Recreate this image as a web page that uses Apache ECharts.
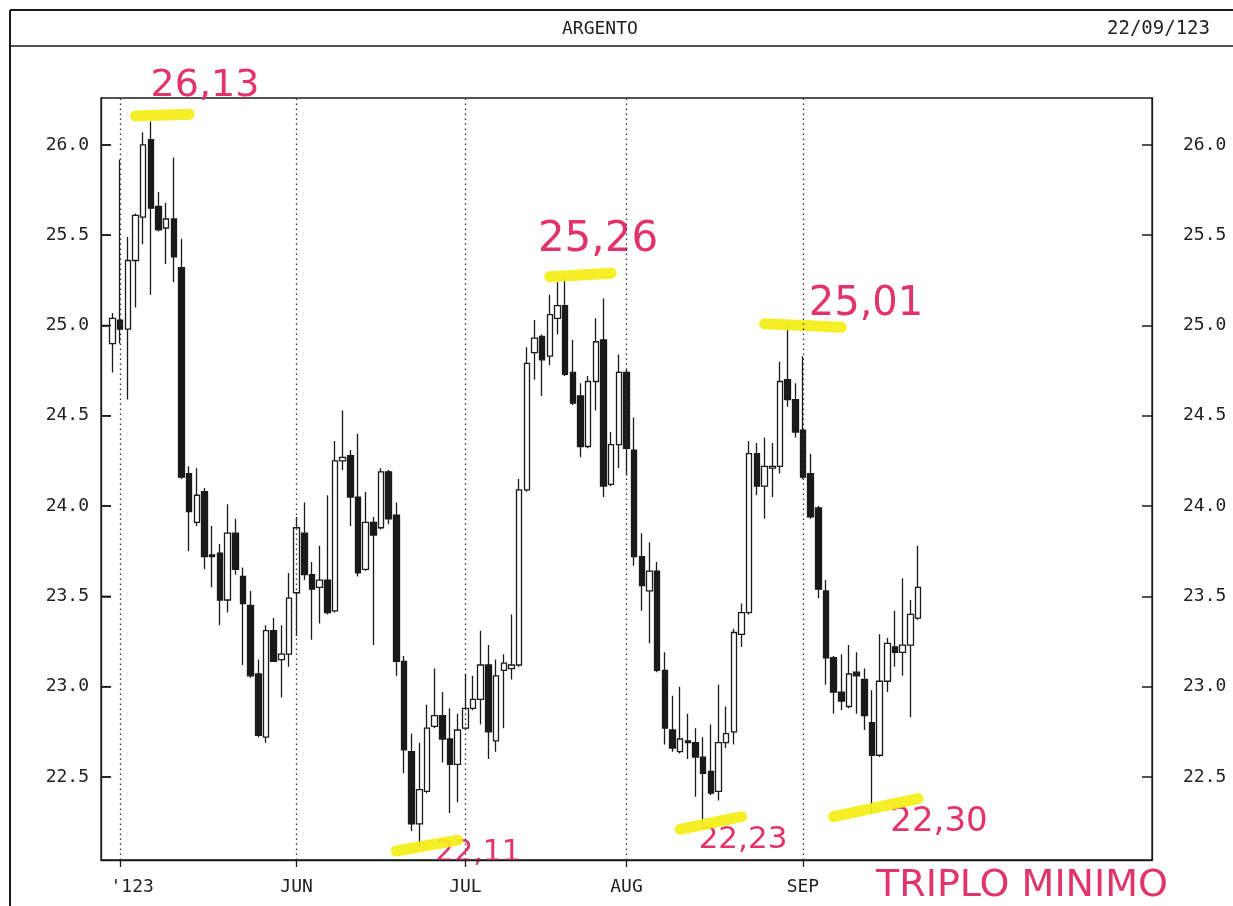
<!DOCTYPE html>
<html>
<head>
<meta charset="utf-8">
<script src="https://cdn.jsdelivr.net/npm/echarts@6/dist/echarts.min.js"></script>
<style>
html,body{margin:0;padding:0;background:#fff;}
#c{width:1233px;height:906px;}
</style>
</head>
<body>
<div id="c"></div>
<script>
// Daily candles, 28 Apr 2023 .. 22 Sep 2023 (weekdays)
const opens = [
24.90,25.03,24.98,25.36,25.60,26.03,25.66,25.54,25.59,25.32,
24.18,23.91,24.08,23.73,23.74,23.48,23.85,23.61,23.45,23.07,
22.72,23.31,23.15,23.18,23.52,23.85,23.62,23.55,23.59,23.42,
24.25,24.28,24.05,23.65,23.91,23.88,24.19,23.95,23.14,22.64,
22.24,22.42,22.78,22.84,22.71,22.57,22.77,22.88,22.93,23.12,
22.70,23.09,23.10,23.12,24.09,24.85,24.94,24.83,25.04,25.11,
24.74,24.61,24.33,24.69,24.92,24.12,24.34,24.74,24.31,23.72,
23.53,23.64,23.09,22.76,22.64,22.70,22.69,22.61,22.53,22.42,
22.69,22.75,23.29,23.41,24.29,24.11,24.21,24.22,24.70,24.59,
24.42,24.18,23.99,23.53,23.16,22.97,22.89,23.08,23.04,22.80,
22.62,23.03,23.22,23.19,23.23,23.38];
const closes = [
25.04,24.98,25.36,25.61,26.00,25.65,25.53,25.59,25.38,24.16,
23.97,24.06,23.72,23.72,23.48,23.85,23.65,23.46,23.06,22.73,
23.31,23.14,23.18,23.49,23.88,23.62,23.54,23.59,23.41,24.25,
24.27,24.05,23.63,23.91,23.84,24.19,23.93,23.14,22.65,22.24,
22.43,22.77,22.84,22.71,22.57,22.76,22.88,22.93,23.12,22.75,
23.06,23.13,23.12,24.09,24.79,24.93,24.81,25.06,25.11,24.73,
24.57,24.33,24.69,24.91,24.11,24.34,24.74,24.32,23.72,23.56,
23.64,23.09,22.77,22.66,22.71,22.69,22.61,22.52,22.41,22.69,
22.74,23.30,23.41,24.29,24.11,24.22,24.22,24.69,24.59,24.41,
24.16,23.94,23.54,23.16,22.97,22.92,23.07,23.06,22.84,22.62,
23.03,23.24,23.19,23.23,23.40,23.55];
const lows = [
24.74,24.90,24.59,25.10,25.45,25.17,25.52,25.34,25.24,24.15,
23.75,23.89,23.65,23.55,23.34,23.41,23.62,23.12,23.05,22.72,
22.69,23.14,22.94,23.11,23.28,23.59,23.26,23.35,23.40,23.41,
24.20,23.89,23.61,23.64,23.23,23.87,23.90,23.06,22.52,22.20,
22.11,22.41,22.77,22.58,22.30,22.36,22.76,22.87,22.79,22.60,
22.64,22.77,23.04,23.11,24.08,24.70,24.61,24.78,24.95,24.72,
24.56,24.27,24.32,24.53,24.05,24.11,24.21,24.17,23.67,23.42,
23.24,23.08,22.68,22.64,22.63,22.60,22.39,22.23,22.40,22.37,
22.66,22.68,23.22,23.40,24.06,23.93,24.05,24.18,24.55,24.38,
24.15,23.93,23.49,23.01,22.85,22.87,22.88,22.85,22.76,22.30,
22.61,22.97,23.11,23.06,22.83,23.37];
const highs = [
25.07,25.92,25.49,25.62,26.07,26.13,25.74,25.68,25.93,25.48,
24.22,24.21,24.10,23.89,23.79,24.01,23.93,23.66,23.53,23.15,
23.34,23.38,23.34,23.63,23.94,24.02,23.69,23.78,24.06,24.36,
24.53,24.31,24.40,24.08,23.94,24.21,24.20,24.02,23.17,22.74,
22.69,22.90,23.10,22.97,22.88,22.85,23.07,23.06,23.31,23.23,
23.15,23.18,23.40,24.15,24.88,25.03,24.95,25.17,25.24,25.26,
24.92,24.68,24.72,25.04,25.15,24.41,24.84,24.76,24.49,23.85,
23.80,23.69,23.19,22.95,23.00,22.85,22.77,22.72,22.79,23.01,
22.89,23.32,23.46,24.36,24.35,24.38,24.35,24.80,25.01,24.68,
24.83,24.29,24.00,23.59,23.17,23.18,23.23,23.19,23.10,22.98,
23.29,23.27,23.42,23.60,23.48,23.78];

// axis: one empty weekday before the data, 30 empty weekdays after
const axisStart = '2023-04-27';
const axisDays = 137;
const monthTickDates = ['2023-05-01','2023-06-01','2023-07-03','2023-08-01','2023-09-01'];
const monthTickLabels = ["'123",'JUN','JUL','AUG','SEP'];
const yTicks = [22.5,23.0,23.5,24.0,24.5,25.0,25.5,26.0];

// hand-drawn highlights: [startIndex, startValue, endIndex, endValue]
const highlights = [
  [3,26.16,10,26.17],
  [57,25.27,65,25.29],
  [85,25.01,95,24.99],
  [37,22.09,45,22.15],
  [74,22.21,82,22.28],
  [94,22.28,105,22.38]
];
const notes = ['26,13','25,26','25,01','22,11','22,23','22,30','TRIPLO MINIMO'];

function pad(n){return n<10?'0'+n:''+n;}
const dates = [];
(function(){
  const d = new Date(axisStart+'T12:00:00Z');
  while(dates.length<axisDays){
    const wd = d.getUTCDay();
    if(wd!==0 && wd!==6){
      dates.push(d.getUTCFullYear()+'-'+pad(d.getUTCMonth()+1)+'-'+pad(d.getUTCDate()));
    }
    d.setUTCDate(d.getUTCDate()+1);
  }
})();
const candleData = ['-'];
for(let i=0;i<opens.length;i++){
  candleData.push([opens[i],closes[i],lows[i],highs[i]]);
}
const isMonth = (idx,val)=> monthTickDates.indexOf(val)>=0;

const MONO = '"DejaVu Sans Mono", "Liberation Mono", monospace';
const INK = '#1a1a1a';
const PINK = '#e2346a';
const YEL = 'rgba(243,238,20,0.92)';
const HAND = '"DejaVu Sans"';

function yAxisFor(pos, margin){
  return {
    type:'value', min:22.04, max:26.26, position:pos,
    axisLine:{show:true,lineStyle:{color:INK,width:1.3}},
    axisTick:{show:true,inside:true,length:10,customValues:yTicks.slice(),lineStyle:{color:INK,width:1.5}},
    axisLabel:{customValues:yTicks.slice(),margin:margin,fontFamily:MONO,fontSize:18,color:'#222',formatter:v=>v.toFixed(1)},
    splitLine:{show:false}
  };
}

const chart = echarts.init(document.getElementById('c'), null, {renderer:'canvas'});
chart.setOption({
  animation:false,
  backgroundColor:'#fff',
  grid:{left:101,top:98,width:1051,height:762,show:true,borderColor:INK,borderWidth:1.3,backgroundColor:'transparent'},
  xAxis:{
    type:'category', data:dates, boundaryGap:true,
    axisLine:{show:true,lineStyle:{color:INK,width:1.3}},
    axisTick:{show:true,alignWithLabel:true,interval:isMonth,length:7,lineStyle:{color:INK,width:1.3}},
    axisLabel:{
      interval:isMonth, margin:18,
      fontFamily:MONO, fontSize:18, color:'#222',
      formatter:function(v){
        const k = monthTickDates.indexOf(v);
        if(k===0) return '{s|'+monthTickLabels[0]+'}';
        return k>=0?monthTickLabels[k]:'';
      },
      rich:{s:{fontFamily:MONO,fontSize:18,color:'#222',padding:[0,0,0,24]}}
    },
    splitLine:{show:false}
  },
  yAxis:[ yAxisFor('left',12), yAxisFor('right',31) ],
  series:[
    {
      type:'line', data:[], z:1, silent:true,
      markLine:{
        silent:true, symbol:['none','none'], label:{show:false},
        lineStyle:{color:YEL,width:11,type:'solid',cap:'round'},
        emphasis:{disabled:true},
        data:highlights.map(h=>[{coord:[h[0]+1,h[1]]},{coord:[h[2]+1,h[3]]}])
      }
    },
    {
      // left-axis inside ticks, positioned by the y scale
      type:'custom', silent:true, z:4,
      data:yTicks.map(v=>[0,v]),
      encode:{x:0,y:1},
      renderItem:function(params, api){
        const y = api.coord([0, api.value(1)])[1];
        const x0 = params.coordSys.x;
        return {type:'line', shape:{x1:x0, y1:y, x2:x0+10, y2:y}, style:{stroke:INK, lineWidth:1.5}};
      }
    },
    {
      type:'candlestick', data:candleData, z:3, barWidth:6,
      itemStyle:{color:'#ffffff',color0:INK,borderColor:INK,borderColor0:INK,borderWidth:1.3},
      markLine:{
        silent:true, symbol:['none','none'], label:{show:false},
        lineStyle:{color:'#333',width:1.3,type:[1.5,3.5]},
        emphasis:{disabled:true},
        data:monthTickDates.map(d=>({xAxis:d}))
      }
    }
  ],
  graphic:[
    {type:'line',shape:{x1:10,y1:10,x2:1233,y2:10},style:{stroke:INK,lineWidth:2},silent:true},
    {type:'line',shape:{x1:10,y1:46,x2:1233,y2:46},style:{stroke:INK,lineWidth:1.5},silent:true},
    {type:'line',shape:{x1:10,y1:10,x2:10,y2:906},style:{stroke:INK,lineWidth:2},silent:true},
    {type:'text',left:562,top:20,style:{text:'ARGENTO',font:'18px '+MONO,fill:'#222'}},
    {type:'text',right:23,top:20,style:{text:'22/09/123',font:'19px '+MONO,fill:'#222'}},
    {type:'text',x:205,y:86,style:{text:notes[0],font:'38px '+HAND,fill:PINK,align:'center',verticalAlign:'middle'}},
    {type:'text',x:598,y:240,style:{text:notes[1],font:'42px '+HAND,fill:PINK,align:'center',verticalAlign:'middle'}},
    {type:'text',x:866,y:305,style:{text:notes[2],font:'40px '+HAND,fill:PINK,align:'center',verticalAlign:'middle'}},
    {type:'text',x:478,y:853,style:{text:notes[3],font:'30px '+HAND,fill:PINK,align:'center',verticalAlign:'middle'}},
    {type:'text',x:743,y:840,style:{text:notes[4],font:'31px '+HAND,fill:PINK,align:'center',verticalAlign:'middle'}},
    {type:'text',x:939,y:822,style:{text:notes[5],font:'34px '+HAND,fill:PINK,align:'center',verticalAlign:'middle'}},
    {type:'text',x:1022,y:886,style:{text:notes[6],font:'38px '+HAND,fill:PINK,align:'center',verticalAlign:'middle'}}
  ]
});
</script>
</body>
</html>
